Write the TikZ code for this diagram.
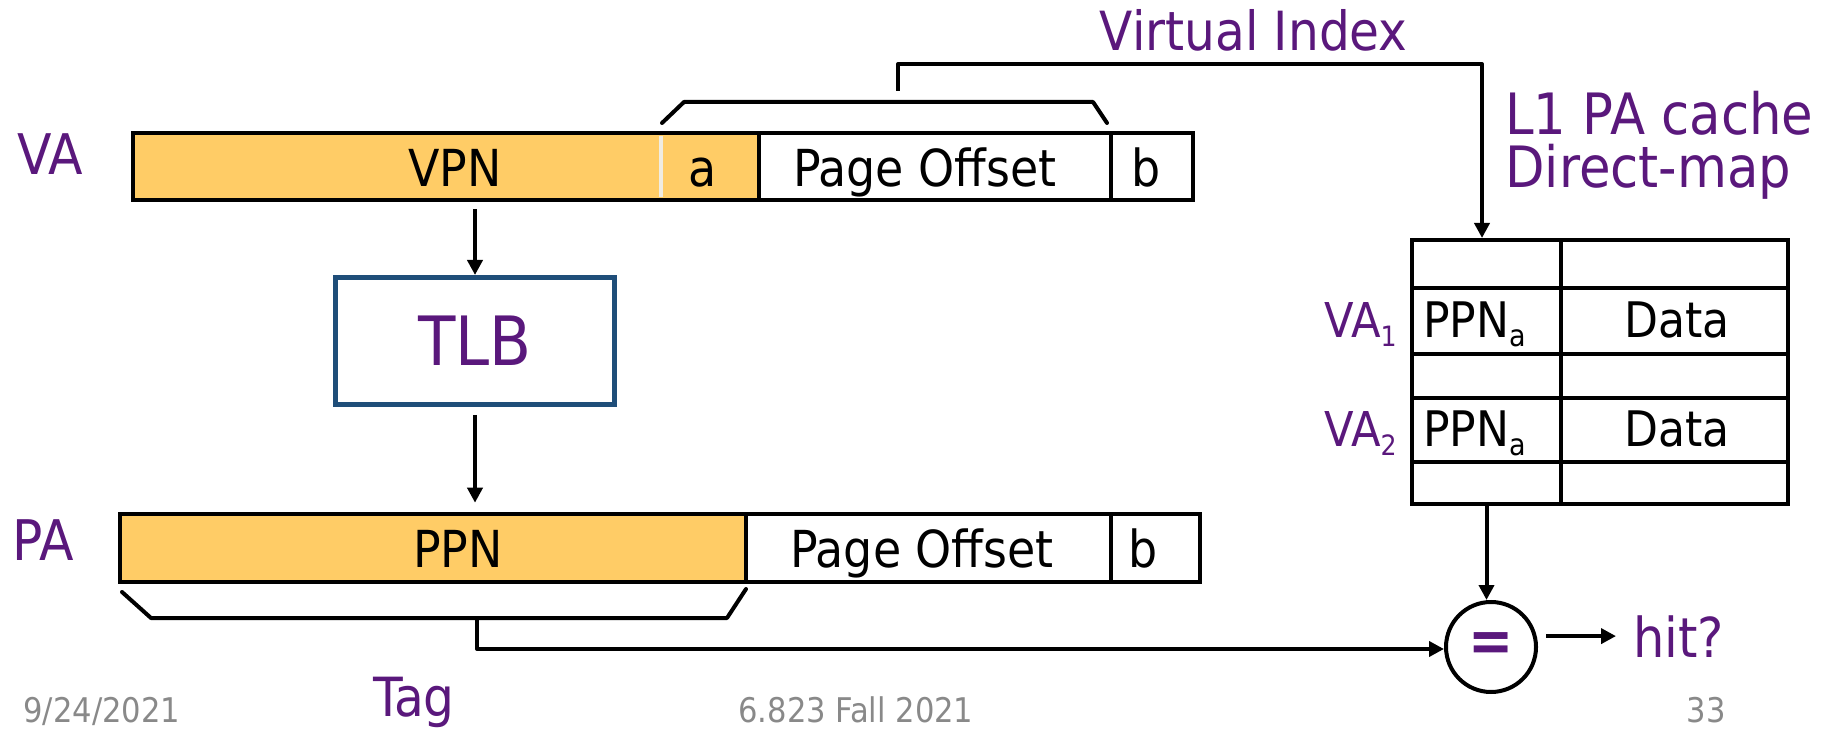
\documentclass[tikz,border=0pt]{standalone}
\usepackage{fontspec}
\setmainfont{DejaVu Sans Condensed}
\usetikzlibrary{arrows.meta}
\definecolor{vpurple}{RGB}{90,24,124}
\definecolor{forange}{RGB}{255,204,102}
\definecolor{tlbblue}{RGB}{31,78,121}
\definecolor{footgrey}{RGB}{137,137,137}
\definecolor{divwhite}{RGB}{240,236,226}
\newcommand\mysub[2]{\raisebox{-4.5pt}{\fontsize{#1}{#1}\selectfont #2}}
\begin{document}
\begin{tikzpicture}[x=0.5pt,y=-0.5pt,
  field/.style={draw=black, line width=2.3pt, inner sep=0pt},
  cell/.style={draw=black, line width=2pt, inner sep=0pt},
  btext/.style={font=\fontsize{25.5pt}{30pt}\selectfont, inner sep=0pt},
  ttext/.style={font=\fontsize{24.5pt}{30pt}\selectfont, inner sep=0pt},
  plabel/.style={text=vpurple, inner sep=0pt},
  foot/.style={text=footgrey, font=\fontsize{17pt}{20pt}\selectfont, inner sep=0pt},
  arr/.style={line width=2pt, line join=round, -{Triangle[length=7.5pt,width=7.5pt]}},
  brk/.style={line width=2pt, line cap=round, line join=round}]
\useasboundingbox (0,0) rectangle (1829,731);

% ---- VA bar ----
\node[field, fill=forange, minimum width=313pt, minimum height=33.5pt] (vaVPN) at (446,166.5) {};
\node[field, minimum width=176pt, minimum height=33.5pt] (vaOff) at (935,166.5) {};
\node[field, minimum width=41pt, minimum height=33.5pt] (vaB) at (1152,166.5) {};
\draw[divwhite, line width=2pt] (661,135.6) -- (661,197.4);
\node[btext, anchor=base] (tVPN) at (455,187) {VPN};
\node[btext, anchor=base] (tA) at (703,187) {a};
\node[btext, anchor=base] (tOffV) at (925,187) {Page Offset};
\node[btext, anchor=base] (tBV) at (1146,187) {b};
\node[plabel, font=\fontsize{28pt}{32pt}\selectfont, anchor=base west] (vaL) at (17,175) {VA};

% ---- bracket over index bits ----
\draw[brk] (662,123) -- (684,102) -- (1093,102) -- (1107,123);
\coordinate (vistub) at (898,91);

% ---- TLB ----
\node[draw=tlbblue, line width=2.5pt, minimum width=139.5pt, minimum height=63.5pt,
      text=vpurple, font=\fontsize{34pt}{40pt}\selectfont] (tlb) at (475,341) {TLB};

% ---- PA bar ----
\node[field, fill=forange, minimum width=313pt, minimum height=34pt] (paPPN) at (433,548) {};
\node[field, minimum width=182.5pt, minimum height=34pt] (paOff) at (928.5,548) {};
\node[field, minimum width=44.5pt, minimum height=34pt] (paB) at (1155.5,548) {};
\node[btext, anchor=base] (tPPN) at (458,567) {PPN};
\node[btext, anchor=base] (tOffP) at (922,567) {Page Offset};
\node[btext, anchor=base] (tBP) at (1143,567) {b};
\node[plabel, font=\fontsize{28pt}{32pt}\selectfont, anchor=base west] (paL) at (12,560) {PA};

% ---- tag bracket ----
\draw[brk] (122,592) -- (151,618) -- (727,618) -- (746,589);
\coordinate (tagstub) at (477,618);

% ---- cache table ----
\node[cell, minimum width=74.5pt, minimum height=24pt] (c11) at (1486.5,264) {};
\node[cell, minimum width=113.5pt, minimum height=24pt] (c12) at (1674.5,264) {};
\node[cell, minimum width=74.5pt, minimum height=33pt] (c21) at (1486.5,321) {};
\node[cell, minimum width=113.5pt, minimum height=33pt] (c22) at (1674.5,321) {};
\node[cell, minimum width=74.5pt, minimum height=22pt] (c31) at (1486.5,376) {};
\node[cell, minimum width=113.5pt, minimum height=22pt] (c32) at (1674.5,376) {};
\node[cell, minimum width=74.5pt, minimum height=32pt] (c41) at (1486.5,430) {};
\node[cell, minimum width=113.5pt, minimum height=32pt] (c42) at (1674.5,430) {};
\node[cell, minimum width=74.5pt, minimum height=21pt] (c51) at (1486.5,483) {};
\node[cell, minimum width=113.5pt, minimum height=21pt] (c52) at (1674.5,483) {};
\node[ttext, anchor=base west] (ppn1) at (1423,338) {PPN\mysub{15pt}{a}};
\node[ttext, anchor=base] (data1) at (1677,338) {Data};
\node[ttext, anchor=base west] (ppn2) at (1423,447) {PPN\mysub{15pt}{a}};
\node[ttext, anchor=base] (data2) at (1677,447) {Data};
\node[plabel, font=\fontsize{24pt}{30pt}\selectfont, anchor=base east] (va1) at (1397,338) {VA\mysub{14pt}{1}};
\node[plabel, font=\fontsize{24pt}{30pt}\selectfont, anchor=base east] (va2) at (1397,447) {VA\mysub{14pt}{2}};

% ---- titles ----
\node[plabel, font=\fontsize{27pt}{32pt}\selectfont, anchor=base east] (vi) at (1408,51) {Virtual Index};
\node[plabel, font=\fontsize{28.5pt}{34pt}\selectfont, anchor=base west] (l1) at (1505,135) {L1 PA cache};
\node[plabel, font=\fontsize{28.5pt}{34pt}\selectfont, anchor=base west] (dm) at (1505,188) {Direct-map};

% ---- comparator ----
\node[draw, circle, line width=2pt, minimum size=45pt, inner sep=0pt,
      text=vpurple, font=\fontsize{30pt}{34pt}\selectfont\bfseries] (circ) at (1491,647) {=};
\node[plabel, font=\fontsize{27.5pt}{32pt}\selectfont, anchor=base west] (hit) at (1633,657) {hit?};

% ---- connectors ----
\draw[arr] ([yshift=-3.5pt]vaVPN.south -| tlb.north) -- (tlb.north);
\draw[arr] ([yshift=-4pt]tlb.south) -- ([yshift=4.5pt]paPPN.north -| tlb.south);
\draw[arr] (vistub) -- (898,64) -| ([xshift=-2.25pt]c11.north);
\draw[arr] (c51.south) -- (c51.south |- circ.north);
\draw[arr] (tagstub) |- ([yshift=-1pt]circ.west);
\draw[arr] ([xshift=4pt]circ.east |- hit.west) -- ([xshift=-8.5pt]hit.west);

% ---- footer ----
\node[foot, anchor=base west] (date) at (23,722) {9/24/2021};
\node[foot, anchor=base] (course) at (856,722) {6.823 Fall 2021};
\node[foot, anchor=base east] (page) at (1726,722) {33};
\node[plabel, font=\fontsize{27pt}{32pt}\selectfont, anchor=base west] (tag) at (373,716) {Tag};
\end{tikzpicture}
\end{document}
